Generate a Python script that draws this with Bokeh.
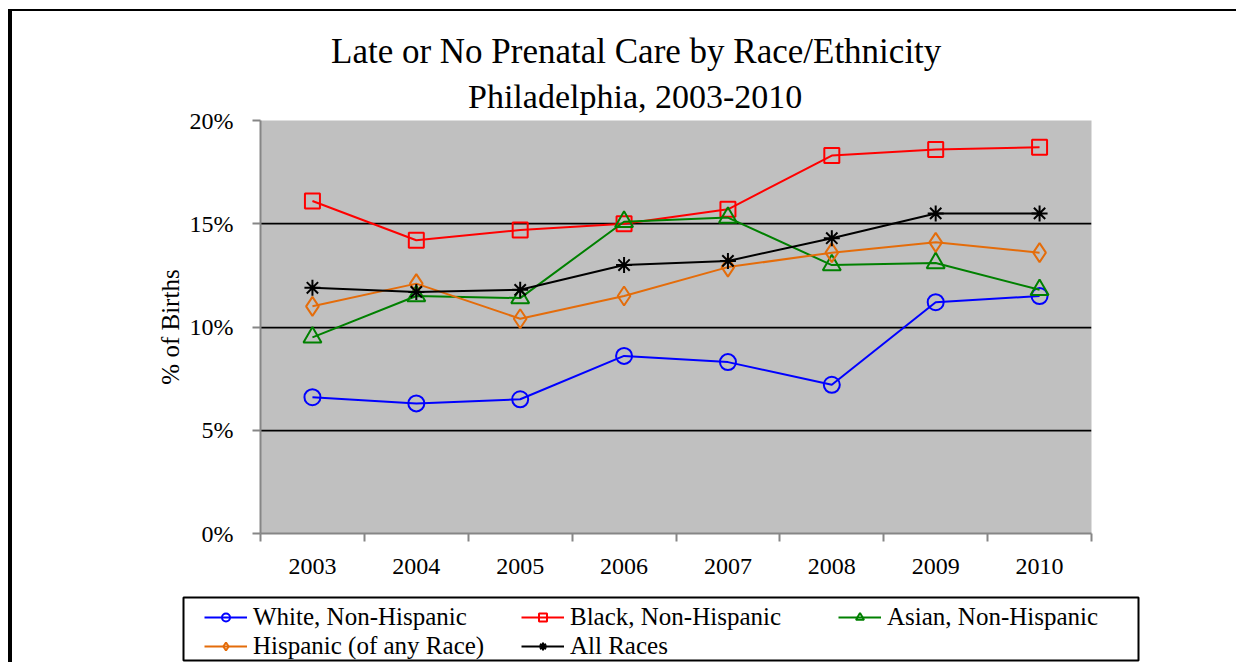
from bokeh.plotting import figure
from bokeh.models import (Range1d, FixedTicker, PrintfTickFormatter, Title, Legend, LegendItem)
from bokeh.embed import file_html
from bokeh.resources import INLINE

# ---- data ----
years = [2003, 2004, 2005, 2006, 2007, 2008, 2009, 2010]
year_labels = ["2003", "2004", "2005", "2006", "2007", "2008", "2009", "2010"]
white = [6.6, 6.3, 6.5, 8.6, 8.3, 7.2, 11.2, 11.5]
black = [16.1, 14.2, 14.7, 15.0, 15.7, 18.3, 18.6, 18.7]
asian = [9.5, 11.5, 11.4, 15.1, 15.3, 13.0, 13.1, 11.8]
hispanic = [11.0, 12.1, 10.4, 11.5, 12.9, 13.6, 14.1, 13.6]
all_races = [11.9, 11.7, 11.8, 13.0, 13.2, 14.3, 15.5, 15.5]
y_ticks = [0, 5, 10, 15, 20]
series_names = ["White, Non-Hispanic", "Black, Non-Hispanic", "Asian, Non-Hispanic",
                "Hispanic (of any Race)", "All Races"]
title_lines = ["Late or No Prenatal Care by Race/Ethnicity", "Philadelphia, 2003-2010"]

FONT = "Liberation Serif"
colors = ["#0000FF", "#FF0000", "#008000", "#E46C0A", "#000000"]
markers = ["circle", "square", "triangle", "diamond", "asterisk"]
sizes = [16, 15, 18, 19, 16]
values = [white, black, asian, hispanic, all_races]

# ---------------- main chart ----------------
p = figure(frame_width=831, frame_height=413, title=None,
           min_border_left=248, min_border_top=109, min_border_right=145, min_border_bottom=57,
           output_backend="svg", toolbar_location=None,
           x_range=Range1d(years[0] - 0.5, years[-1] + 0.5), y_range=Range1d(y_ticks[0], y_ticks[-1]))
p.styles = {"margin-left": "8px", "margin-top": "9px",
            "border-left": "4px solid black", "border-top": "2px solid black"}

p.background_fill_color = "#C0C0C0"
p.border_fill_color = "white"
p.outline_line_color = None

bounds = [y - 0.5 for y in years] + [years[-1] + 0.5]
p.xaxis.ticker = FixedTicker(ticks=years, minor_ticks=bounds)
p.xaxis.major_label_overrides = dict(zip(years, year_labels))
p.xaxis.major_tick_out = 0
p.xaxis.major_tick_in = 0
p.xaxis.minor_tick_out = 8
p.xaxis.minor_tick_in = 0
p.xaxis.minor_tick_line_color = "#868686"
p.xaxis.minor_tick_line_width = 2
p.xaxis.axis_line_color = "#868686"
p.xaxis.axis_line_width = 2
p.xaxis.major_label_standoff = 17
p.xaxis.major_label_text_font = FONT
p.xaxis.major_label_text_font_size = "24px"
p.xaxis.major_label_text_color = "black"

p.yaxis.ticker = FixedTicker(ticks=y_ticks, minor_ticks=[])
p.yaxis.formatter = PrintfTickFormatter(format="%d%%")
p.yaxis.major_tick_out = 8
p.yaxis.major_tick_in = 0
p.yaxis.major_tick_line_color = "#868686"
p.yaxis.major_tick_line_width = 2
p.yaxis.axis_line_color = "#868686"
p.yaxis.axis_line_width = 2
p.yaxis.major_label_standoff = 19
p.yaxis.major_label_text_font = FONT
p.yaxis.major_label_text_font_size = "24px"
p.yaxis.major_label_text_color = "black"
p.yaxis.axis_label = "% of Births"
p.yaxis.axis_label_text_font = FONT
p.yaxis.axis_label_text_font_size = "25px"
p.yaxis.axis_label_text_font_style = "normal"
p.yaxis.axis_label_text_color = "black"
p.yaxis.axis_label_standoff = 3

p.xgrid.visible = False
p.ygrid.ticker = FixedTicker(ticks=y_ticks[1:])
p.ygrid.grid_line_color = "black"
p.ygrid.grid_line_width = 1.75

for vals, c, m, s in zip(values, colors, markers, sizes):
    p.line(years, vals, line_color=c, line_width=2)
    p.scatter(years, vals, marker=m, size=s, fill_color=None, line_color=c, line_width=2)

# titles: the first one added sits next to the frame
p.add_layout(Title(text=title_lines[1], align="left", offset=207.5, standoff=11,
                   text_font=FONT, text_font_size="34px", text_font_style="normal",
                   text_color="black"), "above")
p.add_layout(Title(text=title_lines[0], align="left", offset=70.5, standoff=0,
                   text_font=FONT, text_font_size="35px", text_font_style="normal",
                   text_color="black"), "above")

# ---------------- legend strip (its frame is the legend box) ----------------
q = figure(width=1224, height=72, min_border_left=171, min_border_right=98,
           min_border_top=7, min_border_bottom=2, title=None,
           output_backend="svg", toolbar_location=None,
           x_axis_location=None, y_axis_location=None,
           x_range=Range1d(0, 1), y_range=Range1d(0, 1))
q.styles = {"margin-left": "8px", "border-left": "4px solid black"}
q.xgrid.visible = False
q.ygrid.visible = False
q.background_fill_color = "white"
q.border_fill_color = "white"
q.outline_line_color = "black"
q.outline_line_width = 2

items = []
for name, vals, c, m in zip(series_names, values, colors, markers):
    r1 = q.line(years, vals, line_color=c, line_width=2, visible=False)
    r2 = q.scatter(years, vals, marker=m, size=10, fill_color=None, line_color=c,
                   line_width=2, visible=False)
    items.append(LegendItem(label=name, renderers=[r1, r2]))

legend = Legend(items=items, location=(21, 0), orientation="horizontal", ncols=3,
                border_line_color=None, background_fill_alpha=0.0,
                label_text_font=FONT, label_text_font_size="25px", label_text_color="black",
                glyph_width=43, glyph_height=20, label_height=20, label_width=267,
                label_standoff=6, padding=0, spacing=1, margin=0, click_policy="none")
q.add_layout(legend, "center")

open("out.html", "w").write(file_html([p, q], INLINE))
